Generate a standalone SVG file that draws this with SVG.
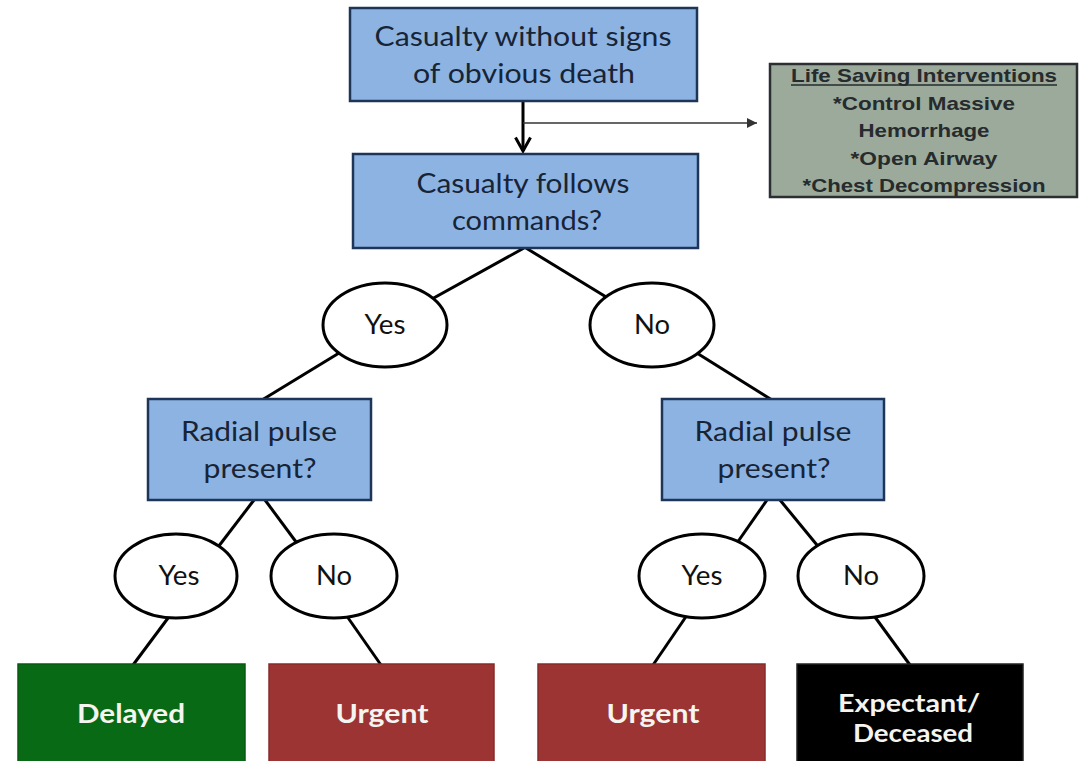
<svg xmlns="http://www.w3.org/2000/svg" width="1082" height="761" viewBox="0 0 1082 761">
<defs>
<style>
.q{fill:#8db3e2;stroke:#1f3557;stroke-width:2.5}
.qt{font-family:Lato,"Liberation Sans",sans-serif;font-size:27px;fill:#172436;text-anchor:middle}
.ov{fill:#fff;stroke:#000;stroke-width:3}
.ot{font-family:Lato,"Liberation Sans",sans-serif;font-size:26px;fill:#111;text-anchor:middle}
.res{stroke-width:1.5}
.rt{font-family:Lato,"Liberation Sans",sans-serif;font-size:26px;font-weight:bold;fill:#f4f4f0;text-anchor:middle}
.rt2{font-size:24px}
.lsi{font-family:"Liberation Sans",Arial,sans-serif;font-size:18.5px;font-weight:bold;fill:#262b2e;text-anchor:middle}
.c{stroke:#000;stroke-width:3;fill:none}
</style>
<marker id="chev" viewBox="0 0 12 12" refX="10" refY="6" markerWidth="6" markerHeight="6" orient="auto" markerUnits="strokeWidth">
<path d="M1,1 L10,6 L1,11" fill="none" stroke="#000" stroke-width="2"/>
</marker>
<marker id="tri" viewBox="0 0 10 10" refX="10" refY="5" markerWidth="7" markerHeight="7" orient="auto" markerUnits="strokeWidth">
<path d="M0,0 L10,5 L0,10 Z" fill="#333"/>
</marker>
</defs>
<rect width="1082" height="761" fill="#fff"/>
<g id="connectors">
<line class="c" x1="523" y1="101" x2="523" y2="151" marker-end="url(#chev)"/>
<line x1="523" y1="123" x2="757" y2="123" stroke="#333" stroke-width="1.5" marker-end="url(#tri)"/>
<line class="c" x1="524" y1="248" x2="385" y2="325"/>
<line class="c" x1="385" y1="325" x2="262" y2="400"/>
<line class="c" x1="526" y1="248" x2="652" y2="325"/>
<line class="c" x1="652" y1="325" x2="772" y2="400"/>
<line class="c" x1="254" y1="500" x2="212" y2="555"/>
<line class="c" x1="265" y1="500" x2="305" y2="554"/>
<line class="c" x1="180" y1="602" x2="133" y2="665"/>
<line class="c" x1="337" y1="602" x2="381" y2="665"/>
<line class="c" x1="767" y1="500" x2="730" y2="553"/>
<line class="c" x1="780" y1="500" x2="826" y2="556"/>
<line class="c" x1="696" y1="602" x2="653" y2="665"/>
<line class="c" x1="864" y1="602" x2="910" y2="665"/>
</g>
<g id="start">
<rect class="q" x="350" y="8" width="347" height="93"/>
<text class="qt" x="523" y="46" textLength="297" lengthAdjust="spacingAndGlyphs">Casualty without signs</text>
<text class="qt" x="524" y="83" textLength="222" lengthAdjust="spacingAndGlyphs">of obvious death</text>
</g>
<g id="lsi">
<rect x="770" y="64" width="307" height="133" fill="#9caa9b" stroke="#2b2f31" stroke-width="2.5"/>
<text class="lsi" x="924" y="82" textLength="266" lengthAdjust="spacingAndGlyphs">Life Saving Interventions</text>
<line x1="791" y1="85" x2="1057" y2="85" stroke="#262b2e" stroke-width="1.6"/>
<text class="lsi" x="924" y="110" textLength="182" lengthAdjust="spacingAndGlyphs">*Control Massive</text>
<text class="lsi" x="924" y="137" textLength="131" lengthAdjust="spacingAndGlyphs">Hemorrhage</text>
<text class="lsi" x="924" y="165" textLength="147" lengthAdjust="spacingAndGlyphs">*Open Airway</text>
<text class="lsi" x="924" y="192" textLength="243" lengthAdjust="spacingAndGlyphs">*Chest Decompression</text>
</g>
<g id="follows">
<rect class="q" x="353" y="154" width="345" height="94"/>
<text class="qt" x="523" y="193" textLength="213" lengthAdjust="spacingAndGlyphs">Casualty follows</text>
<text class="qt" x="527" y="230" textLength="150" lengthAdjust="spacingAndGlyphs">commands?</text>
</g>
<g id="yes1">
<ellipse class="ov" cx="385" cy="325" rx="62" ry="42"/>
<text class="ot" x="385" y="334" textLength="41" lengthAdjust="spacingAndGlyphs">Yes</text>
</g>
<g id="no1">
<ellipse class="ov" cx="652" cy="325" rx="62" ry="42"/>
<text class="ot" x="652" y="334" textLength="36" lengthAdjust="spacingAndGlyphs">No</text>
</g>
<g id="radialL">
<rect class="q" x="148" y="399" width="223" height="101"/>
<text class="qt" x="259" y="441" textLength="156" lengthAdjust="spacingAndGlyphs">Radial pulse</text>
<text class="qt" x="260" y="478" textLength="113" lengthAdjust="spacingAndGlyphs">present?</text>
</g>
<g id="radialR">
<rect class="q" x="662" y="399" width="222" height="101"/>
<text class="qt" x="773" y="441" textLength="157" lengthAdjust="spacingAndGlyphs">Radial pulse</text>
<text class="qt" x="774" y="478" textLength="113" lengthAdjust="spacingAndGlyphs">present?</text>
</g>
<g id="yes2">
<ellipse class="ov" cx="176" cy="576" rx="61" ry="42"/>
<text class="ot" x="179" y="585" textLength="41" lengthAdjust="spacingAndGlyphs">Yes</text>
</g>
<g id="no2">
<ellipse class="ov" cx="334" cy="576" rx="63" ry="42"/>
<text class="ot" x="334" y="585" textLength="36" lengthAdjust="spacingAndGlyphs">No</text>
</g>
<g id="yes3">
<ellipse class="ov" cx="702" cy="576" rx="63" ry="42"/>
<text class="ot" x="702" y="585" textLength="41" lengthAdjust="spacingAndGlyphs">Yes</text>
</g>
<g id="no3">
<ellipse class="ov" cx="861" cy="576" rx="63" ry="42"/>
<text class="ot" x="861" y="585" textLength="36" lengthAdjust="spacingAndGlyphs">No</text>
</g>
<g id="delayed">
<rect class="res" x="18" y="664" width="227" height="110" fill="#086a14" stroke="#0a5a12"/>
<text class="rt" x="131" y="723" textLength="108" lengthAdjust="spacingAndGlyphs">Delayed</text>
</g>
<g id="urgent1">
<rect class="res" x="269" y="664" width="225" height="110" fill="#9b3433" stroke="#872b2a"/>
<text class="rt" x="382" y="723" textLength="93" lengthAdjust="spacingAndGlyphs">Urgent</text>
</g>
<g id="urgent2">
<rect class="res" x="538" y="664" width="227" height="110" fill="#9b3433" stroke="#872b2a"/>
<text class="rt" x="653" y="723" textLength="93" lengthAdjust="spacingAndGlyphs">Urgent</text>
</g>
<g id="expectant">
<rect class="res" x="797" y="664" width="226" height="110" fill="#000" stroke="#222"/>
<text class="rt rt2" x="909" y="712" textLength="142" lengthAdjust="spacingAndGlyphs">Expectant/</text>
<text class="rt rt2" x="913" y="742" textLength="120" lengthAdjust="spacingAndGlyphs">Deceased</text>
</g>
</svg>
